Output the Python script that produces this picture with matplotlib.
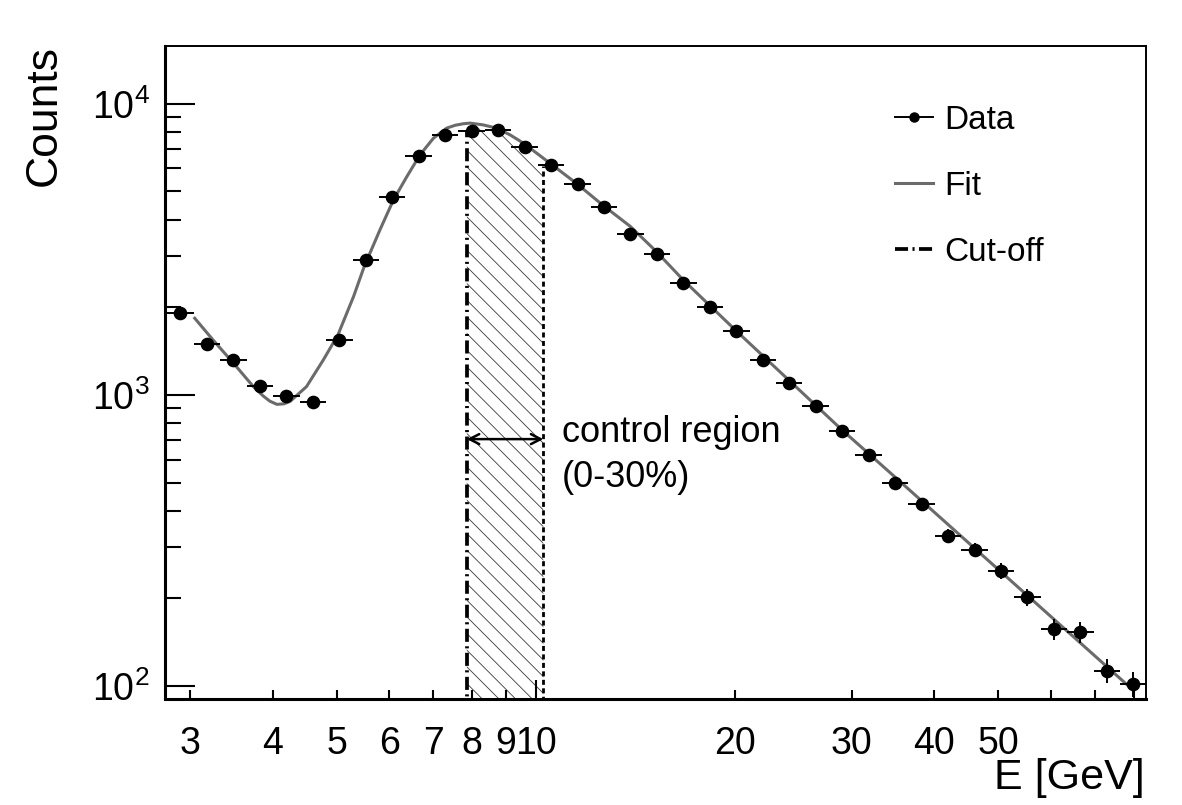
import numpy as np
import matplotlib
matplotlib.use("Agg")
import matplotlib.pyplot as plt
from matplotlib.lines import Line2D
from matplotlib.ticker import NullFormatter, LogLocator

# ---------------- data ----------------
energy = [2.902, 3.182, 3.489, 3.826, 4.195, 4.600, 5.044, 5.531, 6.064, 6.649,
          7.291, 7.994, 8.766, 9.610, 10.54, 11.56, 12.67, 13.89, 15.23, 16.70,
          18.31, 20.08, 22.02, 24.14, 26.47, 29.02, 31.82, 34.89, 38.26, 41.95,
          46.00, 50.44, 55.31, 60.64, 66.49, 72.91, 79.94]
counts = [1909, 1494, 1319, 1077, 992, 944, 1546, 2912, 4786, 6595,
          7805, 8075, 8142, 7082, 6166, 5310, 4436, 3575, 3045, 2420,
          2002, 1659, 1319, 1097, 919, 752, 622, 497, 421, 328,
          294, 248, 202, 157, 153, 113, 102]

fit_energy = [3.05, 3.25, 3.49, 3.74, 3.87, 3.96, 4.06, 4.16, 4.25, 4.50, 4.77,
              5.02, 5.30, 5.50, 5.81, 6.09, 6.38, 6.68, 7.00, 7.33, 7.55, 7.77,
              7.95, 8.31, 8.72, 9.14, 9.57, 10.5, 11.5, 12.6, 13.9, 15.2, 16.7,
              20.0, 28.9, 35.5, 79.0]
fit_counts = [1834, 1545, 1285, 1068, 992, 952, 928, 932, 950, 1068, 1318,
              1608, 2177, 2760, 3690, 4677, 5623, 6680, 7622, 8253, 8440, 8545,
              8585, 8470, 8253, 7820, 7330, 6250, 5340, 4498, 3785, 3110, 2480,
              1673, 764, 504, 99]

cut_low = 7.86
cut_high = 10.26
cut_low_top = 8075
cut_high_top = 6100
hatch_energy = [7.86, 7.95, 8.31, 8.72, 9.14, 9.57, 10.26]
hatch_counts = [8550, 8585, 8470, 8253, 7820, 7330, 6300]
arrow_level = 705

xtick_values = [3, 4, 5, 6, 7, 8, 9, 10, 20, 30, 40, 50, 60, 70, 80]
xtick_labels = ["3", "4", "5", "6", "7", "8", "9", "10", "20", "30", "40", "50", "", "", ""]
legend_labels = ["Data", "Fit", "Cut-off"]

# ---------------- style ----------------
plt.rcParams["font.family"] = ["Liberation Sans", "DejaVu Sans"]
plt.rcParams["mathtext.fontset"] = "custom"
plt.rcParams["mathtext.rm"] = "Liberation Sans"
plt.rcParams["mathtext.it"] = "Liberation Sans:italic"
plt.rcParams["mathtext.bf"] = "Liberation Sans:bold"
plt.rcParams["lines.scale_dashes"] = False
plt.rcParams["hatch.linewidth"] = 0.6

FIT_COLOR = "#6b6b6b"
CUT_LOW_STYLE = (0, (9.4, 3.2, 1.5, 3.2))
CUT_HIGH_STYLE = (0, (3.6, 2.5))

W, H = 1182, 805
fig = plt.figure(figsize=(W / 100, H / 100), dpi=100)
L, R, T, B = 165, 1145.5, 46, 698.5
ax = fig.add_axes([L / W, 1 - B / H, (R - L) / W, (B - T) / H])
ax.set_xscale("log")
ax.set_yscale("log")
xmin, xmax = 2.75, 83.4
ymin, ymax = 90.6, 15800
ax.set_xlim(xmin, xmax)
ax.set_ylim(ymin, ymax)

# hatched control region
ax.fill_between(hatch_energy, ymin * 0.5, hatch_counts, facecolor="none",
                edgecolor="#3a3a3a", hatch="\\\\", linewidth=0, zorder=1)

# cut-off lines
ax.plot([cut_low, cut_low], [ymin * 0.5, cut_low_top], color="k", lw=2.7,
        linestyle=CUT_LOW_STYLE, zorder=2)
ax.plot([cut_high, cut_high], [ymin * 0.5, cut_high_top], color="k", lw=2.0,
        linestyle=CUT_HIGH_STYLE, zorder=2)

# fit
ax.plot(fit_energy, fit_counts, color=FIT_COLOR, lw=2.2, zorder=3,
        solid_joinstyle="round")

# data with bin-width x errors and Poisson y errors
e = np.array(energy)
c = np.array(counts, dtype=float)
mids = np.sqrt(e[:-1] * e[1:])
lo_edges = np.concatenate([[e[0] ** 2 / mids[0]], mids])
hi_edges = np.concatenate([mids, [e[-1] ** 2 / mids[-1]]])
ax.errorbar(e, c, xerr=[e - lo_edges, hi_edges - e], yerr=np.sqrt(c),
            fmt="o", color="k", ms=8.8, elinewidth=1.4, capsize=0, zorder=4)

# arrow + annotation
ax.annotate("", xy=(cut_low, arrow_level), xytext=(cut_high, arrow_level),
            arrowprops=dict(arrowstyle="<->,head_length=0.35,head_width=0.18",
                            lw=1.8, color="k", shrinkA=0, shrinkB=0,
                            mutation_scale=20), zorder=5)
ax.text((562 - L) / (R - L), (B - 442.3) / (B - T), "control region",
        transform=ax.transAxes, fontsize=26, ha="left", va="baseline")
ax.text((562 - L) / (R - L), (B - 487.3) / (B - T), "(0-30%)",
        transform=ax.transAxes, fontsize=26, ha="left", va="baseline")

# ticks
major_x = [v for v in xtick_values if v in (10, 100)]
major_lab = [l for v, l in zip(xtick_values, xtick_labels) if v in (10, 100)]
minor_x = [v for v in xtick_values if v not in (10, 100)]
minor_lab = [l for v, l in zip(xtick_values, xtick_labels) if v not in (10, 100)]
ax.set_xticks(major_x, major_lab)
ax.set_xticks(minor_x, minor_lab, minor=True)
ax.tick_params(axis="x", which="major", direction="in", length=13.7, width=1.5,
               labelsize=27, pad=20, top=False)
ax.tick_params(axis="x", which="minor", direction="in", length=6.5, width=1.5,
               labelsize=27, pad=20, top=False)

ax.yaxis.set_major_locator(LogLocator(base=10))
ax.yaxis.set_minor_locator(LogLocator(base=10, subs=np.arange(2, 10)))
ax.yaxis.set_minor_formatter(NullFormatter())
ax.tick_params(axis="y", which="major", direction="in", length=21.6, width=1.5,
               labelsize=27, pad=11, right=False)
ax.tick_params(axis="y", which="minor", direction="in", length=11.5, width=1.5,
               right=False)

for s in ("left", "bottom"):
    ax.spines[s].set_linewidth(2.2)
for s in ("top", "right"):
    ax.spines[s].set_linewidth(1.4)

# axis titles (ROOT style: at the ends)
fig.text(44 / W, 1 - 45 / H, "Counts", rotation=90, ha="center", va="top", fontsize=32)
fig.text(1145 / W, 1 - 788.5 / H, "E [GeV]", ha="right", va="baseline", fontsize=31)

# legend
h_data = Line2D([], [], color="k", marker="o", ms=6.5, lw=1.4)
h_fit = Line2D([], [], color=FIT_COLOR, lw=2.2)
h_cut = Line2D([], [], color="k", lw=2.7, linestyle=CUT_LOW_STYLE)
ax.legend([h_data, h_fit, h_cut], legend_labels, loc="upper left",
          bbox_to_anchor=((895 - L) / (R - L), (B - 105) / (B - T)),
          frameon=False, fontsize=24, handlelength=1.14, handletextpad=0.33,
          labelspacing=1.05, borderpad=0, borderaxespad=0)

fig.savefig("out.png", dpi=100)
